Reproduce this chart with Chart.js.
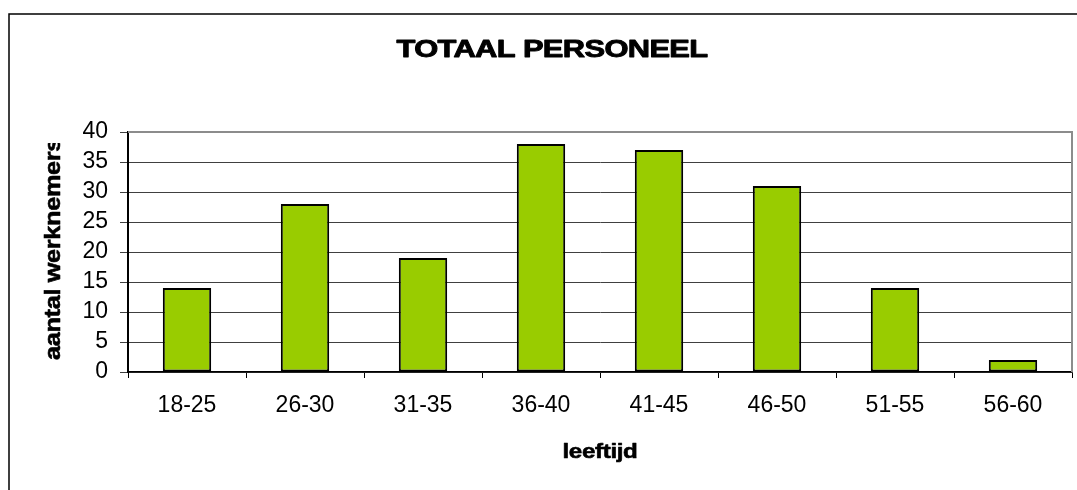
<!DOCTYPE html>
<html>
<head>
<meta charset="utf-8">
<script src="https://cdn.jsdelivr.net/npm/chart.js@4/dist/chart.umd.min.js"></script>
<style>
  html, body { margin: 0; padding: 0; background: #ffffff; }
  canvas { display: block; }
</style>
</head>
<body>
<canvas id="chart" width="1077" height="490"></canvas>
<script>
// Age groups and number of employees per group
const categories = ['18-25', '26-30', '31-35', '36-40', '41-45', '46-50', '51-55', '56-60'];
const employees = [14, 28, 19, 38, 37, 31, 14, 2];

// Value axis range
const yMin = 0;
const yMax = 40;
const yStep = 5;

// Text
const chartTitle = 'TOTAAL PERSONEEL';
const yAxisTitle = 'aantal werknemers';
const xAxisTitle = 'leeftijd';

const FAMILY = '"Liberation Sans", Arial, Helvetica, sans-serif';

// Draws heavy text widened horizontally to a given width (in text space)
function drawWideText(ctx, text, font, width, align, spacing, weight) {
  ctx.font = font;
  ctx.letterSpacing = spacing + 'px';
  const w = ctx.measureText(text).width;
  ctx.scale(width / w, 1);
  ctx.textAlign = align;
  ctx.textBaseline = 'alphabetic';
  ctx.fillText(text, 0, 0);
  ctx.lineWidth = weight;
  ctx.lineJoin = 'round';
  ctx.strokeText(text, 0, 0);
}

// Outer frame, plot frame and the titles
const decorations = {
  id: 'decorations',
  beforeDraw(chart) {
    const ctx = chart.ctx;
    ctx.save();
    ctx.fillStyle = '#ffffff';
    ctx.fillRect(0, 0, chart.width, chart.height);
    ctx.strokeStyle = '#000000';
    ctx.lineWidth = 1.5;
    ctx.strokeRect(9, 14, chart.width + 100, chart.height + 100);
    ctx.restore();
  },
  afterDraw(chart) {
    const ctx = chart.ctx;
    const a = chart.chartArea;

    // grey frame on top and right of the plot area
    ctx.save();
    ctx.strokeStyle = '#8c8c8c';
    ctx.lineWidth = 2;
    ctx.beginPath();
    ctx.moveTo(a.left, a.top);
    ctx.lineTo(a.right, a.top);
    ctx.lineTo(a.right, a.bottom);
    ctx.stroke();
    ctx.restore();

    // main title
    ctx.save();
    ctx.fillStyle = '#000000';
    ctx.strokeStyle = '#000000';
    ctx.translate(552, 57);
    drawWideText(ctx, chartTitle, 'bold 24px ' + FAMILY, 311, 'center', -0.5, 0.9);
    ctx.restore();

    // x axis title
    ctx.save();
    ctx.fillStyle = '#000000';
    ctx.strokeStyle = '#000000';
    ctx.translate((a.left + a.right) / 2, 458);
    drawWideText(ctx, xAxisTitle, 'bold 21px ' + FAMILY, 75, 'center', -0.3, 0.6);
    ctx.restore();

    // y axis title, clipped at the top like the original frame
    ctx.save();
    ctx.fillStyle = '#000000';
    ctx.strokeStyle = '#000000';
    ctx.beginPath();
    ctx.rect(0, 143, a.left, chart.height);
    ctx.clip();
    ctx.translate(60, 360);
    ctx.rotate(-Math.PI / 2);
    drawWideText(ctx, yAxisTitle, 'bold 22px ' + FAMILY, 222, 'left', -0.3, 0.6);
    ctx.restore();
  }
};

new Chart(document.getElementById('chart'), {
  type: 'bar',
  data: {
    labels: categories,
    datasets: [{
      data: employees,
      backgroundColor: '#99cc00',
      borderColor: '#000000',
      borderWidth: 2,
      borderSkipped: false,
      categoryPercentage: 1,
      barPercentage: 0.41
    }]
  },
  options: {
    responsive: false,
    animation: false,
    devicePixelRatio: 1,
    layout: { padding: { left: 81, top: 132, right: 5, bottom: 0 } },
    plugins: {
      legend: { display: false },
      title: { display: false },
      tooltip: { enabled: false }
    },
    scales: {
      x: {
        grid: {
          display: true,
          drawOnChartArea: false,
          drawTicks: true,
          tickLength: 6,
          color: '#000000',
          lineWidth: 1,
          offset: true
        },
        border: { display: true, color: '#000000', width: 1.5 },
        ticks: {
          color: '#000000',
          font: { family: FAMILY, size: 23 },
          padding: 14,
          maxRotation: 0,
          autoSkip: false
        },
        afterFit(scale) { scale.height = 118; }
      },
      y: {
        min: yMin,
        max: yMax,
        grid: {
          color: '#404040',
          lineWidth: 1,
          tickLength: 8,
          drawTicks: true
        },
        border: { display: true, color: '#000000', width: 2 },
        ticks: {
          stepSize: yStep,
          autoSkip: false,
          color: '#000000',
          font: { family: FAMILY, size: 23 },
          padding: 12
        },
        afterFit(scale) { scale.width = 47; }
      }
    }
  },
  plugins: [decorations]
});
</script>
</body>
</html>
